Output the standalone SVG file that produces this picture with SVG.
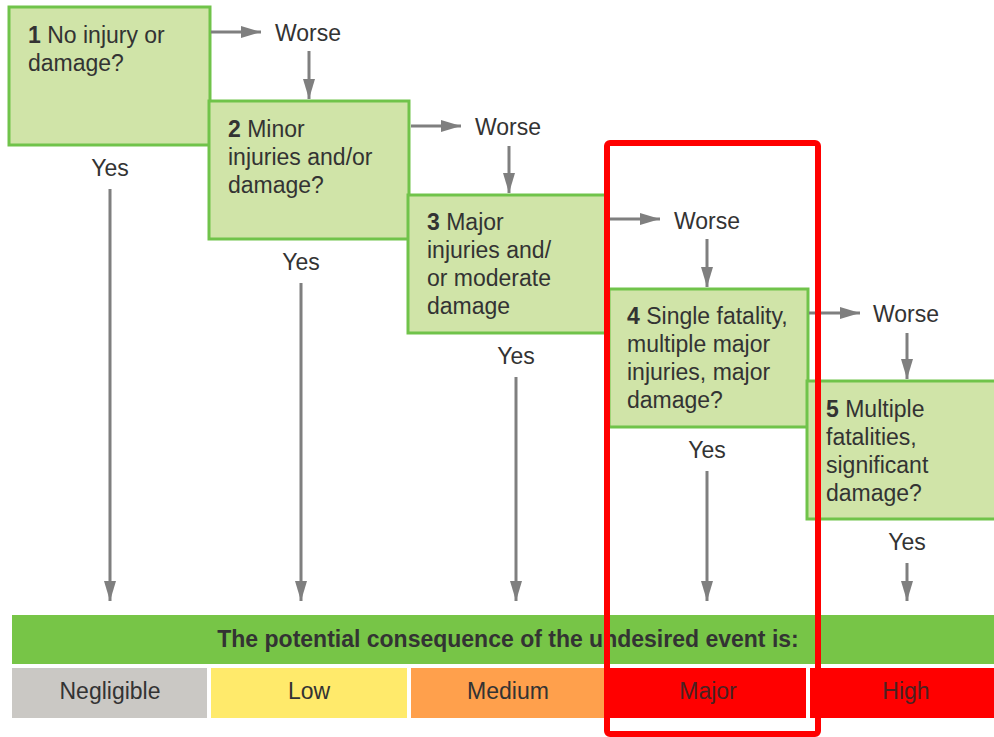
<svg xmlns="http://www.w3.org/2000/svg" width="994" height="737" viewBox="0 0 994 737">
<style>
text{font-family:"Liberation Sans",Arial,sans-serif;font-size:23px;fill:#333}
.box{fill:#d0e4a8;stroke:#70c34a;stroke-width:3}
.c{text-anchor:middle}
b,.b{font-weight:bold}
.con line{stroke:#7f7f7f;stroke-width:3}
</style>
<defs>
<marker id="ah" markerUnits="userSpaceOnUse" markerWidth="20" markerHeight="12" refX="20" refY="6" orient="auto">
<path d="M0,0 L20,6 L0,12 z" fill="#7f7f7f"/>
</marker>
</defs>
<g id="node1"><rect class="box" x="9" y="7" width="201" height="138"/>
<text x="28" y="43"><tspan class="b">1</tspan> No injury or</text><text x="28" y="71">damage?</text></g>
<g id="node2"><rect class="box" x="209" y="101" width="200" height="138"/>
<text x="228" y="137"><tspan class="b">2</tspan> Minor</text><text x="228" y="165">injuries and/or</text><text x="228" y="193">damage?</text></g>
<g id="node3"><rect class="box" x="408" y="195" width="198" height="138"/>
<text x="427" y="230"><tspan class="b">3</tspan> Major</text><text x="427" y="258">injuries and/</text><text x="427" y="286">or moderate</text><text x="427" y="314">damage</text></g>
<g id="node4"><rect class="box" x="609" y="289" width="199" height="138"/>
<text x="627" y="324"><tspan class="b">4</tspan> Single fatality,</text><text x="627" y="352">multiple major</text><text x="627" y="380">injuries, major</text><text x="627" y="408">damage?</text></g>
<g id="node5"><rect class="box" x="807" y="381" width="200" height="138"/>
<text x="826" y="417"><tspan class="b">5</tspan> Multiple</text><text x="826" y="445">fatalities,</text><text x="826" y="473">significant</text><text x="826" y="501">damage?</text></g>
<g id="labels">
<text x="275" y="41">Worse</text><text x="475" y="135">Worse</text><text x="674" y="229">Worse</text><text x="873" y="322">Worse</text>
<text class="c" x="110" y="176">Yes</text><text class="c" x="301" y="270">Yes</text><text class="c" x="516" y="364">Yes</text><text class="c" x="707" y="458">Yes</text><text class="c" x="907" y="550">Yes</text>
</g>
<g class="con" id="connectors" marker-end="url(#ah)">
<line x1="211" y1="32" x2="261" y2="32" marker-end="url(#ah)"/>
<line x1="309" y1="51" x2="309" y2="99" marker-end="url(#ah)"/>
<line x1="411" y1="126" x2="461" y2="126" marker-end="url(#ah)"/>
<line x1="509" y1="146" x2="509" y2="193" marker-end="url(#ah)"/>
<line x1="607" y1="219" x2="660" y2="219" marker-end="url(#ah)"/>
<line x1="707" y1="239" x2="707" y2="287" marker-end="url(#ah)"/>
<line x1="809" y1="313" x2="860" y2="313" marker-end="url(#ah)"/>
<line x1="907" y1="333" x2="907" y2="379" marker-end="url(#ah)"/>
<line x1="110" y1="189" x2="110" y2="601" marker-end="url(#ah)"/>
<line x1="301" y1="283" x2="301" y2="601" marker-end="url(#ah)"/>
<line x1="516" y1="377" x2="516" y2="601" marker-end="url(#ah)"/>
<line x1="707" y1="471" x2="707" y2="601" marker-end="url(#ah)"/>
<line x1="907" y1="563" x2="907" y2="601" marker-end="url(#ah)"/>
</g>
<g id="scale">
<rect x="12" y="615" width="982" height="49" fill="#77c547"/>
<text class="c b" x="508" y="647">The potential consequence of the undesired event is:</text>
<rect x="12" y="668" width="195" height="50" fill="#cac8c4"/>
<rect x="211" y="668" width="196" height="50" fill="#ffea6b"/>
<rect x="411" y="668" width="195" height="50" fill="#ffa04c"/>
<rect x="610" y="668" width="196" height="50" fill="#ff0000"/>
<rect x="810" y="668" width="184" height="50" fill="#ff0000"/>
<text class="c" x="110" y="699">Negligible</text>
<text class="c" x="309" y="699">Low</text>
<text class="c" x="508" y="699">Medium</text>
<text class="c" x="708" y="699" style="fill:#4a2222">Major</text>
<text class="c" x="906" y="699" style="fill:#4a2222">High</text>
</g>
<rect id="highlight" x="607" y="143" width="211" height="591" rx="3" fill="none" stroke="#ff0000" stroke-width="6"/>
</svg>
